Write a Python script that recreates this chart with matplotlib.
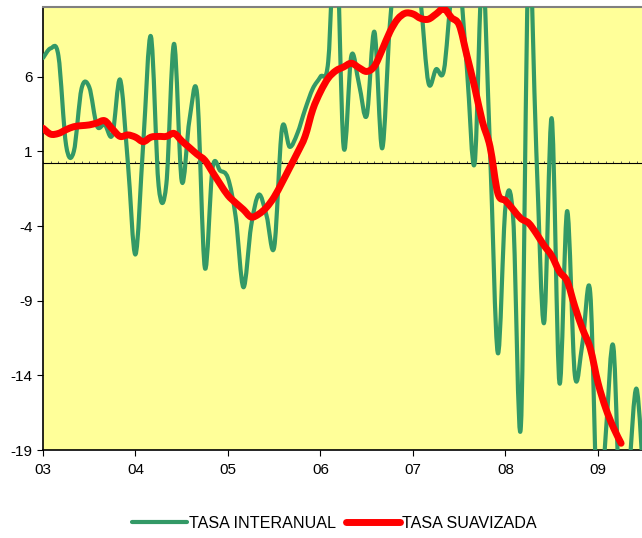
import matplotlib
matplotlib.use('Agg')
import matplotlib.pyplot as plt
from matplotlib.path import Path
from matplotlib.patches import PathPatch
from matplotlib.lines import Line2D
from matplotlib.ticker import MultipleLocator
import numpy as np

plt.rcParams['font.family'] = ['Liberation Sans', 'DejaVu Sans']
plt.rcParams['axes.unicode_minus'] = False

# monthly data, first point = Jan 2003
start_year = 3
year_labels = ['03', '04', '05', '06', '07', '08', '09']
y_ticks = [-19, -14, -9, -4, 1, 6]

tasa_interanual = [
    7.25, 7.9, 7.4, 1.4, 1.0, 5.2, 5.3, 2.7, 2.8, 2.1, 5.8, 0.3,      # 2003
    -5.9, 1.5, 8.7, -1.3, -1.2, 8.2, -1.0, 3.1, 4.8, -6.8, -0.1, -0.3,  # 2004
    -0.8, -3.4, -8.1, -4.0, -1.9, -3.3, -5.4, 2.5, 1.3, 2.2, 3.8, 5.2,  # 2005
    6.0, 7.0, 16.0, 1.3, 7.4, 5.5, 3.4, 9.0, 1.2, 9.5, 14.0, 13.0,      # 2006
    15.0, 11.0, 5.6, 6.5, 6.4, 11.5, 12.5, 6.5, 0.2, 13.0, 1.0, -12.5,  # 2007
    -2.7, -3.5, -17.4, 14.0, 1.0, -10.5, 3.2, -14.5, -3.0, -14.0, -11.8, -8.5,  # 2008
    -24.0, -18.0, -12.1, -25.0, -20.5, -14.9, -22.0,                     # 2009
]

tasa_suavizada = [
    2.55, 2.15, 2.2, 2.45, 2.65, 2.72, 2.77, 2.9, 3.05, 2.5, 2.0, 2.1,
    1.95, 1.65, 1.95, 2.0, 2.0, 2.2, 1.7, 1.25, 0.8, 0.4, -0.4, -1.2,
    -1.95, -2.45, -2.9, -3.4, -3.2, -2.75, -2.05, -1.1, -0.1, 0.9, 2.0, 3.8,
    5.0, 5.9, 6.4, 6.65, 6.9, 6.6, 6.35, 6.7, 7.8, 9.0, 9.85, 10.25,
    10.2, 9.9, 9.85, 10.2, 10.55, 9.95, 9.45, 7.4, 5.3, 3.0, 1.3, -1.8,
    -2.3, -2.9, -3.5, -3.8, -4.5, -5.3, -6.0, -7.05, -7.7, -9.4, -10.9, -12.2,
    -14.5, -16.2, -17.5, -18.55,
]

GREEN = '#339966'
RED = '#FF0000'


def smooth_path(x, y):
    # excel style smoothed line: cubic bezier through every point
    pts = np.column_stack([x, y])
    n = len(pts)
    verts = [pts[0]]
    codes = [Path.MOVETO]
    for i in range(n - 1):
        p0 = pts[max(i - 1, 0)]
        p1 = pts[i]
        p2 = pts[i + 1]
        p3 = pts[min(i + 2, n - 1)]
        c1 = p1 + (p2 - p0) / 6
        c2 = p2 - (p3 - p1) / 6
        verts += [c1, c2, p2]
        codes += [Path.CURVE4] * 3
    return Path(verts, codes)


def main():
    fig = plt.figure(figsize=(6.42, 5.38), dpi=100)
    ax = fig.add_axes([43 / 642, 1 - 450 / 538, 1 - 43 / 642 + 0.002, (450 - 6.5) / 538])
    ax.set_facecolor('#FFFF99')

    x_g = start_year + np.arange(len(tasa_interanual)) / 12
    x_r = start_year + np.arange(len(tasa_suavizada)) / 12

    for x, y, col, lw in [(x_g, tasa_interanual, GREEN, 3.0),
                          (x_r, tasa_suavizada, RED, 5.0)]:
        patch = PathPatch(smooth_path(x, y), facecolor='none', edgecolor=col,
                          lw=lw, capstyle='round', joinstyle='round', zorder=3)
        ax.add_patch(patch)

    ymin, ymax = -19, 10.7
    ax.set_xlim(start_year, start_year + 599 / 92.3)
    ax.set_ylim(ymin, ymax)

    ax.set_xticks(range(start_year, start_year + len(year_labels)))
    ax.set_xticklabels(year_labels)
    ax.set_yticks(y_ticks)
    ax.tick_params(labelsize=11, length=4, width=0.8, color='black')
    ax.tick_params(axis='x', pad=5)

    ax.spines['right'].set_visible(False)
    ax.spines['top'].set_color('#808080')
    ax.spines['top'].set_linewidth(1.5)
    for s in ['left', 'bottom']:
        ax.spines[s].set_linewidth(1.2)

    # axis line crossing near zero, with monthly ticks
    cross = 0.2
    sec = ax.secondary_xaxis((cross - ymin) / (ymax - ymin))
    sec.set_xticks([])
    sec.xaxis.set_minor_locator(MultipleLocator(1 / 12))
    sec.tick_params(which='minor', length=1.5, width=0.6, direction='out', color='#444444')
    sec.spines['bottom'].set_linewidth(0.8)
    sec.spines['bottom'].set_color('#222222')

    handles = [Line2D([], [], color=GREEN, lw=3.0, solid_capstyle='round'),
               Line2D([], [], color=RED, lw=5.0, solid_capstyle='round')]
    fig.legend(handles, ['TASA INTERANUAL', 'TASA SUAVIZADA'], loc='center',
               bbox_to_anchor=(0.521, 1 - 523 / 538), ncol=2, frameon=False,
               fontsize=11.6, handlelength=3.4, handletextpad=0.1, columnspacing=0.6)

    fig.savefig('out.png', dpi=100)


if __name__ == '__main__':
    main()
